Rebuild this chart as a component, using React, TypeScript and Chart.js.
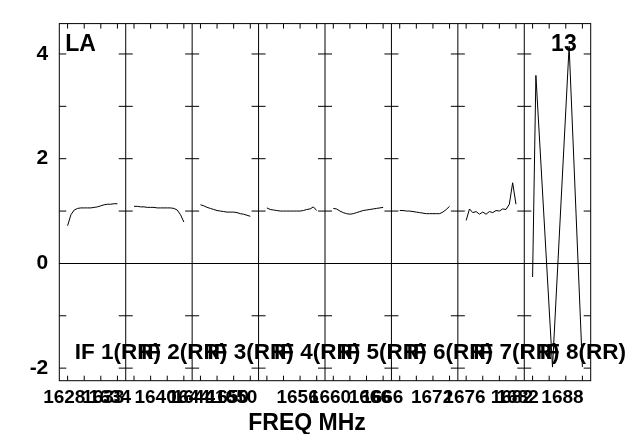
import React, { useEffect, useRef } from 'react';
import { Chart, registerables } from 'chart.js';

Chart.register(...registerables);

// ---- axis ranges ----
const FREQ_MIN = 1627;
const FREQ_MAX = 1691;
const AMP_MIN = -2.24;
const AMP_MAX = 4.58;

// ---- IF panels ----
const IF_NAMES = ['IF 1(RR)', 'IF 2(RR)', 'IF 3(RR)', 'IF 4(RR)', 'IF 5(RR)', 'IF 6(RR)', 'IF 7(RR)', 'IF 8(RR)'];
const IF_EDGES = [1627, 1635, 1643, 1651, 1659, 1667, 1675, 1683, 1691];
const CHANNEL_OFFSETS = [1.0, 1.4, 1.8, 2.2, 2.6, 3.0, 3.4, 3.8, 4.2, 4.6, 5.0, 5.4, 5.8, 6.2, 6.6, 7.0];

// ---- amplitudes per IF (16 channels each) ----
const IF1_AMP = [0.72, 0.93, 1.02, 1.05, 1.06, 1.06, 1.06, 1.06, 1.07, 1.08, 1.10, 1.12, 1.13, 1.13, 1.14, 1.14];
const IF2_AMP = [1.09, 1.09, 1.08, 1.08, 1.07, 1.07, 1.07, 1.06, 1.06, 1.06, 1.06, 1.06, 1.05, 1.02, 0.93, 0.79];
const IF3_AMP = [1.12, 1.10, 1.07, 1.05, 1.03, 1.01, 1.00, 0.99, 0.98, 0.98, 0.98, 0.97, 0.95, 0.94, 0.92, 0.90];
const IF4_AMP = [1.06, 1.03, 1.02, 1.01, 1.00, 1.00, 1.00, 1.00, 1.00, 1.00, 1.00, 1.01, 1.03, 1.04, 1.08, 1.01];
const IF5_AMP = [1.05, 1.04, 1.00, 0.97, 0.95, 0.94, 0.95, 0.97, 0.99, 1.01, 1.02, 1.03, 1.04, 1.05, 1.06, 1.07];
const IF6_AMP = [1.01, 1.01, 1.00, 1.00, 0.99, 0.98, 0.97, 0.96, 0.95, 0.95, 0.95, 0.95, 0.95, 0.98, 1.03, 1.09];
const IF7_AMP = [0.82, 1.04, 0.97, 0.99, 0.94, 0.98, 0.94, 0.99, 0.97, 1.01, 1.00, 1.04, 1.03, 1.13, 1.54, 1.13];
const IF8_AMP = [-0.26, 3.59, null, null, null, null, -1.98, null, null, null, null, 4.15, null, null, null, -1.98];
const IF_AMPS = [IF1_AMP, IF2_AMP, IF3_AMP, IF4_AMP, IF5_AMP, IF6_AMP, IF7_AMP, IF8_AMP];

// ---- ticks ----
const Y_TICK_MARKS = [-2, -1, 1, 2, 3, 4];
const Y_LABELED = [-2, 0, 2, 4];
const X_MINOR_TICKS = [
  1628, 1630, 1632, 1634, 1636, 1638, 1640, 1642, 1644, 1646, 1648, 1650, 1652, 1654, 1656, 1658,
  1660, 1662, 1664, 1666, 1668, 1670, 1672, 1674, 1676, 1678, 1680, 1682, 1684, 1686, 1688, 1690,
];
const X_TICK_VALUES = [
  1627.6, 1632.3, 1633.1, 1638.6, 1642.6, 1643.2, 1647.3, 1648.3, 1655.7,
  1659.6, 1664.4, 1665.9, 1671.9, 1675.8, 1681.5, 1682.2, 1687.6,
];
const X_TICK_TEXT = [
  '1628', '1633', '1634', '1640', '1644', '1644', '1650', '1650', '1656',
  '1660', '1666', '1666', '1672', '1676', '1682', '1682', '1688',
];

const ANTENNA = 'LA';
const PLOT_ID = '13';
const X_TITLE = 'FREQ MHz';

const FONT = '"Liberation Sans", Arial, Helvetica, sans-serif';

const aipsPlugin = {
  id: 'aipsFrame',
  beforeDatasetsDraw(chart: any) {
    const { ctx, chartArea: a, scales } = chart;
    const x = scales.x;
    const y = scales.y;
    ctx.save();
    ctx.strokeStyle = '#000';
    ctx.lineWidth = 1;
    ctx.beginPath();
    const inner = IF_EDGES.slice(1, -1);
    inner.forEach((f) => {
      const px = x.getPixelForValue(f);
      ctx.moveTo(px, a.top);
      ctx.lineTo(px, a.bottom);
    });
    Y_TICK_MARKS.forEach((v) => {
      const py = y.getPixelForValue(v);
      ctx.moveTo(a.left, py);
      ctx.lineTo(a.left + 7, py);
      ctx.moveTo(a.right - 7, py);
      ctx.lineTo(a.right, py);
      inner.forEach((f) => {
        const px = x.getPixelForValue(f);
        ctx.moveTo(px - 7, py);
        ctx.lineTo(px + 7, py);
      });
    });
    X_MINOR_TICKS.forEach((f) => {
      const px = x.getPixelForValue(f);
      ctx.moveTo(px, a.top);
      ctx.lineTo(px, a.top + 5);
      ctx.moveTo(px, a.bottom);
      ctx.lineTo(px, a.bottom - 5);
    });
    ctx.stroke();
    ctx.strokeRect(a.left, a.top, a.right - a.left, a.bottom - a.top);
    ctx.restore();
  },
  afterDraw(chart: any) {
    const { ctx, chartArea: a, scales } = chart;
    const x = scales.x;
    ctx.save();
    ctx.fillStyle = '#000';
    ctx.textBaseline = 'alphabetic';
    ctx.font = `bold 23px ${FONT}`;
    ctx.textAlign = 'left';
    ctx.fillText(ANTENNA, a.left + 6, a.top + 27);
    ctx.textAlign = 'right';
    ctx.fillText(PLOT_ID, a.right - 14, a.top + 27);
    ctx.textAlign = 'center';
    ctx.fillText(X_TITLE, 307, 430);
    ctx.font = `bold 22.5px ${FONT}`;
    ctx.textAlign = 'left';
    IF_NAMES.forEach((name, k) => {
      const px = x.getPixelForValue(IF_EDGES[k] + 1.85);
      ctx.fillText(name, px, a.bottom - 22);
    });
    ctx.restore();
  },
};

export default function App() {
  const ref = useRef<HTMLCanvasElement>(null);
  useEffect(() => {
    document.body.style.margin = '0';
    const canvas = ref.current;
    if (!canvas) return;
    const datasets = IF_AMPS.map((amps, k) => ({
      label: IF_NAMES[k],
      data: amps.map((v, i) => ({ x: IF_EDGES[k] + CHANNEL_OFFSETS[i], y: v })),
      borderColor: '#000',
      borderWidth: 1,
      pointRadius: 0,
      fill: false,
      tension: 0,
      spanGaps: true,
    }));
    const chart = new Chart(canvas, {
      type: 'line',
      data: { datasets },
      options: {
        animation: false,
        responsive: false,
        maintainAspectRatio: false,
        layout: { padding: { left: 0, right: 43.3, top: 12, bottom: 0 } },
        plugins: { legend: { display: false }, tooltip: { enabled: false }, title: { display: false } },
        scales: {
          x: {
            type: 'linear',
            min: FREQ_MIN,
            max: FREQ_MAX,
            afterFit: (s: any) => { s.height = 53.3; },
            afterBuildTicks: (s: any) => { s.ticks = X_TICK_VALUES.map((v) => ({ value: v })); },
            grid: { display: false, drawTicks: false },
            border: { display: false },
            ticks: {
              autoSkip: false,
              maxRotation: 0,
              minRotation: 0,
              padding: 6,
              color: '#000',
              font: { family: FONT, size: 19, weight: 'bold' },
              callback: (_v: any, i: number) => X_TICK_TEXT[i],
            },
          },
          y: {
            type: 'linear',
            min: AMP_MIN,
            max: AMP_MAX,
            afterFit: (s: any) => { s.width = 59.3; },
            afterBuildTicks: (s: any) => { s.ticks = Y_LABELED.map((v) => ({ value: v })); },
            border: { display: false },
            grid: {
              drawTicks: false,
              color: (c: any) => (c.tick && c.tick.value === 0 ? '#000' : 'rgba(0,0,0,0)'),
              lineWidth: 1,
            },
            ticks: {
              padding: 11,
              color: '#000',
              font: { family: FONT, size: 21, weight: 'bold' },
              callback: (v: any) => String(v),
            },
          },
        },
      },
      plugins: [aipsPlugin],
    });
    return () => chart.destroy();
  }, []);
  return (
    <div style={{ width: 634, height: 434 }}>
      <canvas ref={ref} width={634} height={434} style={{ display: 'block' }} />
    </div>
  );
}
